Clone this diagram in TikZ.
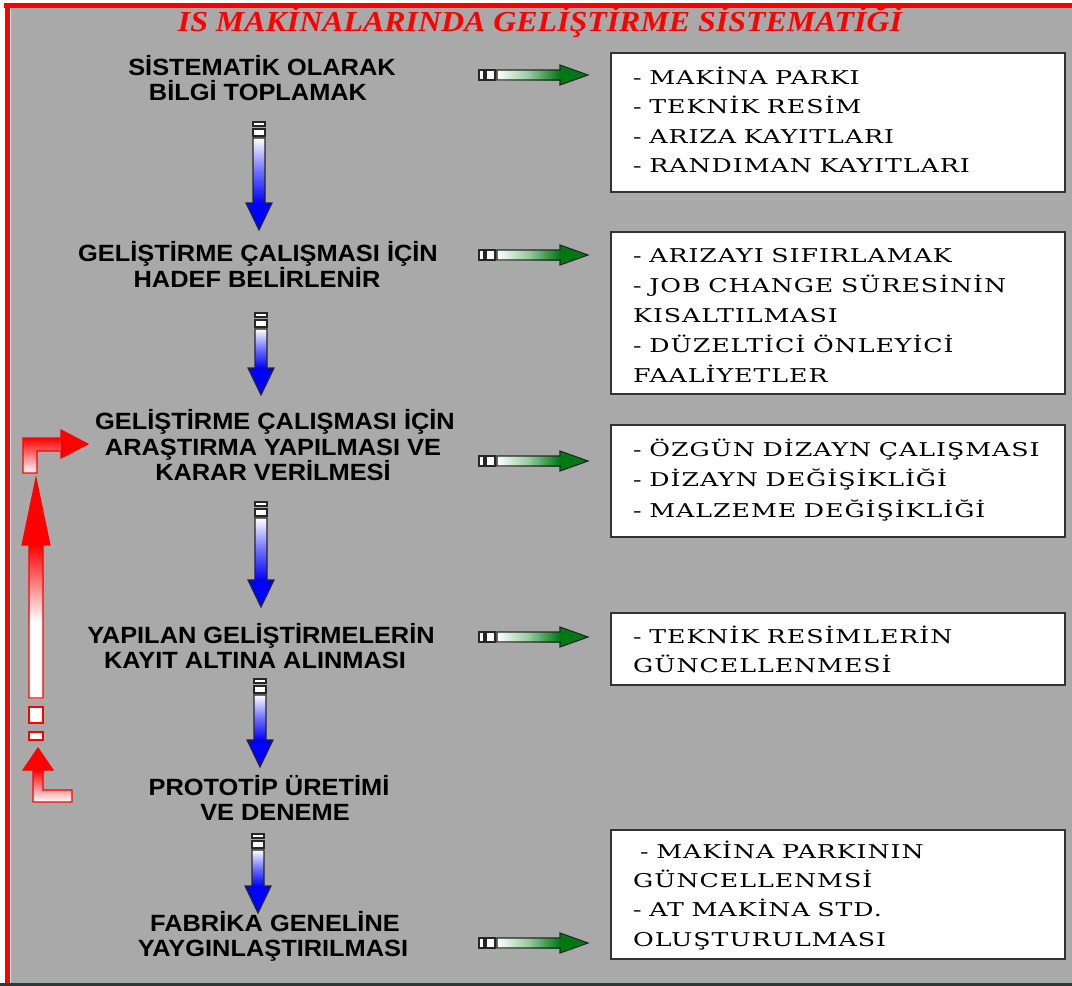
\documentclass[tikz,border=0pt]{standalone}
\usepackage{fontspec}
\setmainfont{Liberation Serif}
\newfontfamily\titlefont[FakeStretch=1.1]{Liberation Serif}
\newfontfamily\labelfont[FakeStretch=1.08]{Liberation Sans}
\newfontfamily\boxfont[FakeStretch=1.33,LetterSpace=5,WordSpace=0.85]{DejaVu Serif}
\definecolor{bggray}{RGB}{169,169,169}
\definecolor{edgedark}{RGB}{40,60,60}
\definecolor{arrgreen}{RGB}{0,120,20}
\tikzset{
  titletext/.style={font={\titlefont\bfseries\itshape\fontsize{29}{32}\selectfont}, text=red, anchor=base, inner sep=0},
  lbl/.style={font={\labelfont\bfseries\fontsize{23.5}{26}\selectfont}, anchor=base, inner sep=0},
  btxt/.style={font={\boxfont\fontsize{19}{24}\selectfont}, anchor=base west, inner sep=0},
  infobox/.style={draw=black!80, line width=1.6pt, fill=white},
  blueline/.style={draw=black!85, line width=1.1pt},
  greenline/.style={draw=black!85, line width=1.1pt},
  redline/.style={draw=red, line width=1.1pt},
}
% blue down arrow: x, top, tip
\newcommand\bluedown[3]{%
  \filldraw[fill=white,blueline] (#1-6,#2) rectangle (#1+6,#2+4);
  \filldraw[fill=white,blueline] (#1-6,#2+7) rectangle (#1+6,#2+14);
  \shade[top color=white, bottom color=blue, middle color=white!45!blue] (#1-6,#2+16) rectangle (#1+6,#3-27);
  \fill[blue] (#1-13,#3-27) -- (#1,#3) -- (#1+13,#3-27) -- cycle;
  \draw[blueline] (#1-6,#2+16) -- (#1-6,#3-27) -- (#1-13,#3-27) -- (#1,#3) -- (#1+13,#3-27) -- (#1+6,#3-27) -- (#1+6,#2+16) -- cycle;
}
% green right arrow: centre y
\newcommand\greenright[1]{%
  \filldraw[fill=white,greenline] (479,#1-5) rectangle (484,#1+5);
  \filldraw[fill=white,greenline] (486,#1-5) rectangle (495,#1+5);
  \shade[left color=white, right color=arrgreen, middle color=white!60!arrgreen] (497,#1-5) rectangle (560,#1+5);
  \fill[arrgreen] (560,#1-10) -- (588,#1) -- (560,#1+10) -- cycle;
  \draw[greenline] (497,#1-5) -- (560,#1-5) -- (560,#1-10) -- (588,#1) -- (560,#1+10) -- (560,#1+5) -- (497,#1+5) -- cycle;
}
\begin{document}
\begin{tikzpicture}[x=1pt,y=-1pt]
\useasboundingbox (0,0) rectangle (1072,986);
% frame
\fill[white] (0,0) rectangle (1072,986);
\fill[bggray] (10.5,8) rectangle (1072,983);
\fill[red] (4,3) rectangle (1072,8);
\fill[red] (5,3) rectangle (9.5,983);
\fill[edgedark] (0,983) rectangle (1072,986);

% title
\node[titletext] (title) at (540,31) {IS MAKİNALARINDA GELİŞTİRME SİSTEMATİĞİ};

% left labels
\node[lbl] (l1a) at (262,75) {SİSTEMATİK OLARAK};
\node[lbl] (l1b) at (258,100.5) {BİLGİ TOPLAMAK};
\node[lbl] (l2a) at (258,261) {GELİŞTİRME ÇALIŞMASI İÇİN};
\node[lbl] (l2b) at (257,287) {HADEF BELİRLENİR};
\node[lbl] (l3a) at (275,429) {GELİŞTİRME ÇALIŞMASI İÇİN};
\node[lbl] (l3b) at (273,455) {ARAŞTIRMA YAPILMASI VE};
\node[lbl] (l3c) at (273,480) {KARAR VERİLMESİ};
\node[lbl] (l4a) at (261,643) {YAPILAN GELİŞTİRMELERİN};
\node[lbl] (l4b) at (255,668) {KAYIT ALTINA ALINMASI};
\node[lbl] (l5a) at (269,795) {PROTOTİP ÜRETİMİ};
\node[lbl] (l5b) at (275,820) {VE DENEME};
\node[lbl] (l6a) at (275,931) {FABRİKA GENELİNE};
\node[lbl] (l6b) at (273,956) {YAYGINLAŞTIRILMASI};

% down arrows
\bluedown{259}{122}{230}
\bluedown{261}{313}{395}
\bluedown{261}{502}{607}
\bluedown{260}{679}{767}
\bluedown{258}{834}{913}

% right arrows
\greenright{75}
\greenright{255}
\greenright{461}
\greenright{637}
\greenright{943}

% boxes
\draw[infobox] (611,53) rectangle (1065,192);
\draw[infobox] (611,232) rectangle (1065,394);
\draw[infobox] (611,425) rectangle (1065,537);
\draw[infobox] (611,613) rectangle (1065,685);
\draw[infobox] (611,830) rectangle (1065,959);

\node[btxt] (b1a) at (633,84) {- MAKİNA PARKI};
\node[btxt] (b1b) at (633,113.5) {- TEKNİK RESİM};
\node[btxt] (b1c) at (633,143) {- ARIZA KAYITLARI};
\node[btxt] (b1d) at (633,172.5) {- RANDIMAN KAYITLARI};

\node[btxt] (b2a) at (633,262) {- ARIZAYI SIFIRLAMAK};
\node[btxt] (b2b) at (633,292) {- JOB CHANGE SÜRESİNİN};
\node[btxt] (b2c) at (633,322) {KISALTILMASI};
\node[btxt] (b2d) at (633,352) {- DÜZELTİCİ ÖNLEYİCİ};
\node[btxt] (b2e) at (633,382) {FAALİYETLER};

\node[btxt] (b3a) at (633,456) {- ÖZGÜN DİZAYN ÇALIŞMASI};
\node[btxt] (b3b) at (633,486) {- DİZAYN DEĞİŞİKLİĞİ};
\node[btxt] (b3c) at (633,517) {- MALZEME DEĞİŞİKLİĞİ};

\node[btxt] (b4a) at (633,643) {- TEKNİK RESİMLERİN};
\node[btxt] (b4b) at (633,672) {GÜNCELLENMESİ};

\node[btxt] (b6a) at (640,858) {- MAKİNA PARKININ};
\node[btxt] (b6b) at (633,887) {GÜNCELLENMSİ};
\node[btxt] (b6c) at (633,916.5) {- AT MAKİNA STD.};
\node[btxt] (b6d) at (633,946) {OLUŞTURULMASI};

% red feedback arrow: upper L
\shade[top color=red, bottom color=white] (23,438) -- (61,438) -- (61,451) -- (37,451) -- (37,473) -- (23,473) -- cycle;
\fill[red] (61,430) -- (88,444) -- (61,458) -- cycle;
\draw[redline] (23,473) -- (23,438) -- (61,438) -- (61,430) -- (88,444) -- (61,458) -- (61,451) -- (37,451) -- (37,473) -- cycle;
% vertical shaft
\shade[top color=red, bottom color=white, middle color=white] (29,545) rectangle (43,698);
\fill[red] (22,545) -- (36,478) -- (50,545) -- cycle;
\draw[redline] (29,698) -- (29,545) -- (22,545) -- (36,478) -- (50,545) -- (43,545) -- (43,698) -- cycle;
\filldraw[fill=white,redline] (29,707) rectangle (43,723);
\filldraw[fill=white,redline] (29,732) rectangle (43,740);
% lower L
\shade[top color=red, bottom color=white] (33,770) -- (43,770) -- (43,790) -- (72,790) -- (72,802) -- (33,802) -- cycle;
\fill[red] (23,770) -- (38,748) -- (53,770) -- cycle;
\draw[redline] (38,748) -- (53,770) -- (43,770) -- (43,790) -- (72,790) -- (72,802) -- (33,802) -- (33,770) -- (23,770) -- cycle;
\end{tikzpicture}
\end{document}
